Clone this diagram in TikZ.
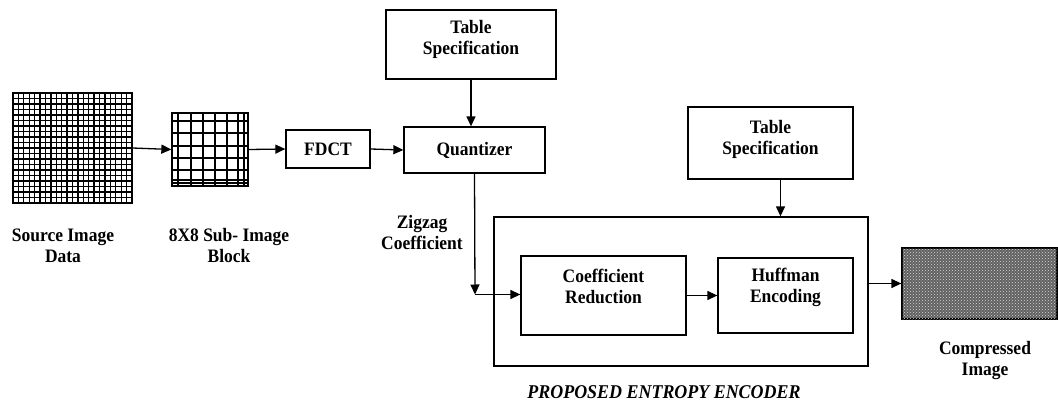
\documentclass[tikz,border=0pt]{standalone}
\usepackage{fontspec}
\setmainfont{Liberation Serif}[FakeStretch=0.92]
\usetikzlibrary{arrows.meta,patterns}

\tikzset{
  box/.style={draw, line width=1.3pt, inner sep=0pt, fill=white},
  txt/.style={align=center, inner sep=0pt, font=\fontsize{19}{21}\selectfont\bfseries},
  lbl/.style={txt},
  gridline/.style={line width=1.3pt},
  arr/.style={line width=1.3pt, -{Triangle[length=10pt,width=9pt]}},
  wire/.style={line width=1.3pt}
}

\begin{document}
\begin{tikzpicture}[x=1pt, y=-1pt]
  \useasboundingbox (0,0) rectangle (1058,404);

  % source image: fine 22 x 20 grid
  \node[box, minimum width=119pt, minimum height=110pt] (src) at (72.5,148) {};
  \foreach \i in {1,...,21}
    \draw[gridline] ({13+\i*119/22},93) -- ({13+\i*119/22},203);
  \foreach \j in {1,...,19}
    \draw[gridline] (13,{93+\j*110/20}) -- (132,{93+\j*110/20});
  \node[lbl] (srclbl) at (63,245.5) {Source Image\\Data};

  % 8x8 sub-image block
  \node[box, minimum width=76pt, minimum height=73pt] (blk) at (210,149.5) {};
  \foreach \x in {178,191,203,215,227,238,244}
    \draw[gridline] (\x,113) -- (\x,186);
  \foreach \y in {121,133,146,158,170,180,183}
    \draw[gridline] (172,\y) -- (248,\y);
  \node[lbl] (blklbl) at (229,245.5) {8X8 Sub- Image\\Block};

  % processing chain
  \node[box, txt, minimum width=84pt, minimum height=38pt] (fdct) at (328,149) {FDCT};
  \node[box, txt, minimum width=141pt, minimum height=46pt] (quant) at (474.5,150) {Quantizer};
  \node[box, minimum width=170pt, minimum height=69pt,
        label={[txt, yshift=5pt]center:Table\\Specification}] (tab1) at (471,44.5) {};

  \draw[arr] (src.east) -- (blk.west);
  \draw[arr] (blk.east) -- (fdct.west);
  \draw[arr] (fdct.east) -- (quant.west);
  \draw[arr] (tab1.south) -- (tab1.south |- quant.north);

  % entropy encoder
  \node[box, minimum width=374pt, minimum height=149pt] (enc) at (681,291.5) {};
  \node[box, minimum width=165pt, minimum height=79pt,
        label={[txt, yshift=9pt]center:Coefficient\\Reduction}] (cred) at (603.5,295.5) {};
  \node[box, minimum width=135pt, minimum height=75pt,
        label={[txt, yshift=8pt]center:Huffman\\Encoding}] (huff) at (785.5,295.5) {};
  \node[box, minimum width=165pt, minimum height=72pt,
        label={[txt, yshift=4pt]center:Table\\Specification}] (tab2) at (770.5,143) {};
  \node[font=\fontsize{19.5}{21}\selectfont\bfseries\itshape, inner sep=0pt] (enclbl) at (664,392)
    {PROPOSED ENTROPY ENCODER};

  % zigzag path into the encoder
  \coordinate (zz) at (475,294.5);
  \draw[arr] (quant.south) -- (zz);
  \draw[arr] (zz) -- (cred.west |- zz);
  \node[lbl] (zzlbl) at (422,232) {Zigzag\\Coefficient};

  \draw[arr] (cred.east) -- (huff.west);
  \draw[arr] ([xshift=10pt]tab2.south) -- ([xshift=10pt]tab2.south |- enc.north);

  % compressed output
  \node[box, minimum width=155pt, minimum height=71pt, fill=black!62,
        postaction={pattern=crosshatch dots, pattern color=white!85!black}] (cmp) at (979.5,283.5) {};
  \draw[arr] (enc.east |- cmp.west) -- (cmp.west);
  \node[lbl] (cmplbl) at (985,360.5) {Compressed\\Image};
\end{tikzpicture}
\end{document}
